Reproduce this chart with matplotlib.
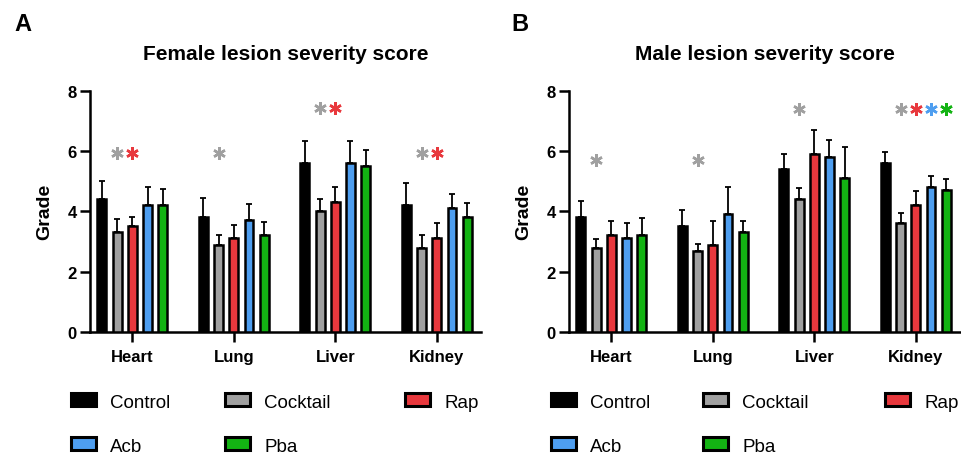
import matplotlib
matplotlib.use("Agg")
import matplotlib.pyplot as plt
from matplotlib.patches import Patch
import numpy as np

plt.rcParams['font.family'] = ['Liberation Sans', 'DejaVu Sans']

organs = ["Heart", "Lung", "Liver", "Kidney"]
groups = ["Control", "Cocktail", "Rap", "Acb", "Pba"]
colors = ["#000000", "#a0a0a0", "#e8383d", "#4e9ef0", "#13b313"]

# Female means and upper SD
female_control = [4.4, 3.8, 5.6, 4.2]
female_cocktail = [3.3, 2.9, 4.0, 2.8]
female_rap = [3.5, 3.1, 4.3, 3.1]
female_acb = [4.2, 3.7, 5.6, 4.1]
female_pba = [4.2, 3.2, 5.5, 3.8]
female_control_err = [0.6, 0.65, 0.72, 0.73]
female_cocktail_err = [0.46, 0.31, 0.40, 0.42]
female_rap_err = [0.32, 0.44, 0.51, 0.50]
female_acb_err = [0.61, 0.53, 0.74, 0.46]
female_pba_err = [0.55, 0.46, 0.54, 0.49]

# Male means and upper SD
male_control = [3.8, 3.5, 5.4, 5.6]
male_cocktail = [2.8, 2.7, 4.4, 3.6]
male_rap = [3.2, 2.9, 5.9, 4.2]
male_acb = [3.1, 3.9, 5.8, 4.8]
male_pba = [3.2, 3.3, 5.1, 4.7]
male_control_err = [0.53, 0.54, 0.5, 0.36]
male_cocktail_err = [0.28, 0.23, 0.36, 0.35]
male_rap_err = [0.49, 0.79, 0.8, 0.46]
male_acb_err = [0.5, 0.9, 0.58, 0.36]
male_pba_err = [0.58, 0.37, 1.02, 0.38]

# significance asterisks: (organ index, group index, height)
female_stars = [(0, 1, 5.93), (0, 2, 5.93), (1, 1, 5.93), (2, 1, 7.43), (2, 2, 7.43),
                (3, 1, 5.93), (3, 2, 5.93)]
male_stars = [(0, 1, 5.69), (1, 1, 5.69), (2, 1, 7.38),
              (3, 1, 7.4), (3, 2, 7.4), (3, 3, 7.4), (3, 4, 7.4)]

female_vals = [female_control, female_cocktail, female_rap, female_acb, female_pba]
female_errs = [female_control_err, female_cocktail_err, female_rap_err, female_acb_err, female_pba_err]
male_vals = [male_control, male_cocktail, male_rap, male_acb, male_pba]
male_errs = [male_control_err, male_cocktail_err, male_rap_err, male_acb_err, male_pba_err]

W, H = 961, 460
fig = plt.figure(figsize=(W / 100, H / 100), dpi=100)

pitch = 0.15
bw = 0.088
x = np.arange(len(organs))


def panel(left_px, vals, errs, stars, title):
    ax = fig.add_axes([left_px / W, 1 - 333 / H, 391 / W, (333 - 91.7) / H])
    for i, (v, e) in enumerate(zip(vals, errs)):
        xi = x + (i - 2) * pitch
        ax.bar(xi, v, width=bw, color=colors[i], edgecolor="black", linewidth=1.8, zorder=3)
        ax.errorbar(xi, v, yerr=[np.zeros(len(e)), e], fmt="none", ecolor="black",
                    elinewidth=1.3, capsize=2.2, capthick=1.3, zorder=2)
    for (g, s, h) in stars:
        ax.plot(x[g] + (s - 2) * pitch, h, marker=(6, 2, 0), markersize=9,
                markeredgewidth=1.8, color=colors[s], clip_on=False, zorder=4)
    ax.set_xlim(-0.417, 3.436)
    ax.set_ylim(0, 8)
    ax.set_yticks([0, 2, 4, 6, 8])
    ax.set_xticks(x)
    ax.set_xticklabels(organs, fontsize=12, fontweight="bold")
    for lab in ax.get_yticklabels():
        lab.set_fontweight("bold")
        lab.set_fontsize(12)
    ax.tick_params(axis="y", length=7, width=1.8, pad=2.5)
    ax.tick_params(axis="x", length=7, width=1.8, pad=5)
    for sp in ["top", "right"]:
        ax.spines[sp].set_visible(False)
    for sp in ["left", "bottom"]:
        ax.spines[sp].set_linewidth(1.8)
    ax.set_ylabel("Grade", fontsize=14, fontweight="bold")
    ax.yaxis.set_label_coords(-0.095, 0.5)
    ax.set_title(title, fontsize=15, fontweight="bold", pad=23)
    return ax


panel(90, female_vals, female_errs, female_stars, "Female lesion severity score")
panel(569, male_vals, male_errs, male_stars, "Male lesion severity score")

fig.text(14 / W, 1 - 31 / H, "A", fontsize=17, fontweight="bold", va="baseline")
fig.text(511 / W, 1 - 31 / H, "B", fontsize=17, fontweight="bold", va="baseline")

# legends, one entry each at the reference positions
leg_cols_left = [71, 225, 405]
leg_cols_right = [551, 703, 885]
leg_rows = [403, 447]
layout = [(0, 0), (0, 1), (0, 2), (1, 0), (1, 1)]  # (row, col) for each group
for cols in (leg_cols_left, leg_cols_right):
    for i, (r, c) in enumerate(layout):
        h = Patch(facecolor=colors[i], edgecolor="black", linewidth=2.2)
        fig.legend(handles=[h], labels=[groups[i]], loc="center left",
                   bbox_to_anchor=(cols[c] / W, 1 - leg_rows[r] / H),
                   frameon=False, borderpad=0, borderaxespad=0,
                   handlelength=1.33, handleheight=0.68, handletextpad=0.75,
                   fontsize=13.5)

fig.savefig("out.png", dpi=100)
